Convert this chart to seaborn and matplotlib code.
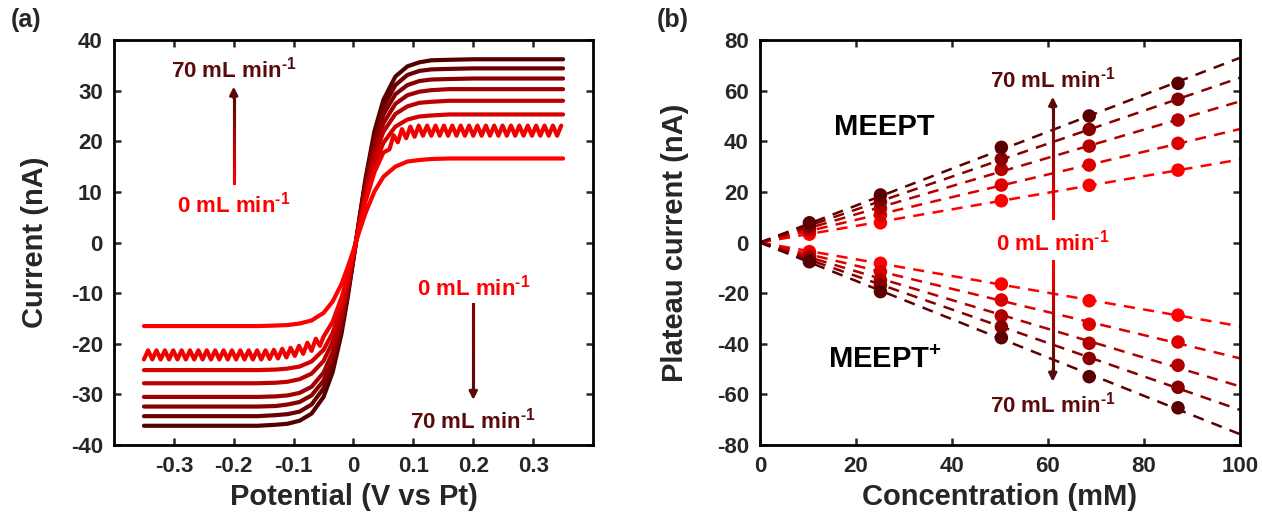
import numpy as np
import pandas as pd
import matplotlib
matplotlib.use('Agg')
import matplotlib.pyplot as plt
import seaborn as sns
from matplotlib.collections import LineCollection
from matplotlib.colors import to_rgb

# ---- panel (a): voltammograms, flow rate 0..70 mL/min
potential = [-0.35, -0.30, -0.25, -0.20, -0.16, -0.13, -0.11, -0.09, -0.07, -0.05, -0.035,
             -0.02, -0.01, 0.0, 0.01, 0.02, 0.035, 0.05, 0.07, 0.09, 0.11, 0.13, 0.16,
             0.20, 0.25, 0.30, 0.35]
current_0 = [-16.5, -16.5, -16.5, -16.5, -16.5, -16.4, -16.3, -16.0, -15.4, -13.9, -11.7,
             -8.2, -5.0, -1.5, 2.3, 5.8, 10.1, 13.0, 15.0, 16.0, 16.3, 16.5, 16.6,
             16.6, 16.6, 16.6, 16.6]
current_20 = [-25.2, -25.2, -25.2, -25.2, -25.2, -25.1, -24.9, -24.5, -23.5, -21.2, -17.9,
              -12.5, -7.7, -2.2, 3.5, 8.8, 15.4, 19.7, 22.9, 24.3, 24.9, 25.1, 25.3,
              25.3, 25.3, 25.3, 25.3]
current_30 = [-27.8, -27.8, -27.8, -27.8, -27.8, -27.7, -27.5, -27.0, -25.9, -23.4, -19.7,
              -13.8, -8.5, -2.4, 3.9, 9.8, 17.0, 21.9, 25.4, 26.9, 27.6, 27.8, 28.0,
              28.0, 28.0, 28.0, 28.0]
current_40 = [-30.5, -30.5, -30.5, -30.5, -30.5, -30.4, -30.2, -29.7, -28.5, -25.7, -21.7,
              -15.2, -9.5, -2.9, 4.0, 10.5, 18.4, 23.6, 27.4, 29.1, 29.8, 30.1, 30.3,
              30.3, 30.3, 30.3, 30.3]
current_50 = [-32.4, -32.4, -32.4, -32.4, -32.4, -32.3, -32.0, -31.5, -30.2, -27.3, -23.0,
              -16.1, -10.0, -2.9, 4.4, 11.3, 19.7, 25.3, 29.3, 31.1, 31.9, 32.2, 32.3,
              32.4, 32.4, 32.4, 32.4]
current_60 = [-34.3, -34.3, -34.3, -34.3, -34.3, -34.1, -33.9, -33.4, -32.0, -28.8, -24.3,
              -17.0, -10.5, -3.1, 4.7, 12.0, 20.9, 26.8, 31.1, 33.1, 33.9, 34.2, 34.3,
              34.4, 34.4, 34.4, 34.4]
current_70 = [-36.2, -36.2, -36.2, -36.2, -36.2, -36.0, -35.8, -35.2, -33.8, -30.5, -25.7,
              -18.0, -11.1, -3.3, 4.9, 12.6, 22.0, 28.2, 32.8, 34.8, 35.6, 36.0, 36.1,
              36.2, 36.2, 36.2, 36.2]

# 10 mL/min curve is the wavy one, read on its own grid
wavy_potential = [-0.350, -0.343, -0.336, -0.329, -0.322, -0.315, -0.308, -0.301, -0.294, -0.287,
                  -0.280, -0.273, -0.266, -0.259, -0.252, -0.245, -0.238, -0.231, -0.224, -0.217,
                  -0.210, -0.203, -0.196, -0.189, -0.182, -0.175, -0.168, -0.161, -0.154, -0.147,
                  -0.140, -0.133, -0.126, -0.119, -0.112, -0.105, -0.098, -0.091, -0.084, -0.077,
                  -0.070, -0.063, -0.056, -0.050, -0.035, -0.020, -0.010, 0.000, 0.010, 0.020,
                  0.035, 0.050, 0.060, 0.067, 0.074, 0.081, 0.088, 0.095, 0.102, 0.109,
                  0.116, 0.123, 0.130, 0.137, 0.144, 0.151, 0.158, 0.165, 0.172, 0.179,
                  0.186, 0.193, 0.200, 0.207, 0.214, 0.221, 0.228, 0.235, 0.242, 0.249,
                  0.256, 0.263, 0.270, 0.277, 0.284, 0.291, 0.298, 0.305, 0.312, 0.319,
                  0.326, 0.333, 0.340, 0.347]
wavy_current = [-23.1, -21.3, -23.1, -21.3, -23.1, -21.3, -23.1, -21.3, -23.1, -21.3,
                -23.1, -21.3, -23.1, -21.3, -23.1, -21.3, -23.1, -21.3, -23.1, -21.3,
                -23.1, -21.3, -23.1, -21.3, -23.1, -21.3, -23.1, -21.3, -23.1, -21.3,
                -23.0, -21.2, -22.9, -21.0, -22.7, -20.8, -22.4, -20.4, -22.0, -19.8,
                -21.4, -19.0, -20.4, -18.6, -15.7, -10.9, -6.7, -1.8, 3.3, 8.1,
                13.9, 17.8, 18.4, 21.2, 19.8, 22.4, 20.6, 22.9, 20.9, 23.1,
                21.1, 23.1, 21.1, 23.1, 21.1, 23.1, 21.1, 23.1, 21.1, 23.1,
                21.1, 23.1, 21.1, 23.1, 21.1, 23.1, 21.1, 23.1, 21.1, 23.1,
                21.1, 23.1, 21.1, 23.1, 21.1, 23.1, 21.1, 23.1, 21.1, 23.1,
                21.1, 23.1, 21.1, 23.1]

flow_a = ['0', '10', '20', '30', '40', '50', '60', '70']
colors_a = ['#FF0000', '#F00000', '#D40000', '#BA0000', '#A00000', '#860000', '#6C0000', '#520000']
x_ticks_a = [-0.3, -0.2, -0.1, 0, 0.1, 0.2, 0.3]
x_tick_labels_a = ['-0.3', '-0.2', '-0.1', '0', '0.1', '0.2', '0.3']

# ---- panel (b): plateau current vs concentration, flow 0, 10, 30, 50, 70 mL/min
conc = [10.3, 25.1, 50.3, 68.6, 87.1]
flow_b = ['0', '10', '30', '50', '70']
meept_0 = [3.3, 7.8, 16.5, 22.6, 28.6]
meept_10 = [4.4, 10.9, 22.7, 30.6, 39.2]
meept_30 = [5.3, 13.5, 28.9, 38.1, 48.4]
meept_50 = [6.5, 16.1, 33.0, 44.7, 56.6]
meept_70 = [7.8, 18.8, 37.6, 50.0, 62.9]
meeptp_0 = [-3.6, -8.2, -16.4, -23.0, -28.7]
meeptp_10 = [-4.5, -11.5, -22.7, -32.3, -39.3]
meeptp_30 = [-5.6, -14.8, -29.0, -39.8, -48.5]
meeptp_50 = [-6.6, -16.8, -33.3, -45.8, -57.2]
meeptp_70 = [-7.6, -19.4, -37.6, -53.0, -65.3]
colors_b = ['#FF0000', '#DC0000', '#B00000', '#860000', '#5A0000']

dark = '#5A0A0A'
red = '#FF0000'

sns.set_style('ticks')
plt.rcParams['font.family'] = ['Liberation Sans', 'DejaVu Sans']
plt.rcParams['font.weight'] = 'bold'
plt.rcParams['axes.labelweight'] = 'bold'
plt.rcParams['axes.unicode_minus'] = False
plt.rcParams['mathtext.fontset'] = 'custom'
plt.rcParams['mathtext.bf'] = 'Liberation Sans:bold'
plt.rcParams['mathtext.rm'] = 'Liberation Sans:bold'
plt.rcParams['mathtext.default'] = 'bf'
plt.rcParams['lines.scale_dashes'] = False

fig = plt.figure(figsize=(12.62, 5.2), dpi=100)
ax1 = fig.add_axes([0.0903, 0.1442, 0.3796, 0.7788])
ax2 = fig.add_axes([0.6022, 0.1442, 0.3803, 0.7788])

# long table for panel (a)
curves = {'0': current_0, '20': current_20, '30': current_30, '40': current_40,
          '50': current_50, '60': current_60, '70': current_70}
rows = []
for f in flow_a:
    if f == '10':
        for e, i in zip(wavy_potential, wavy_current):
            rows.append((f, e, i))
    else:
        for e, i in zip(potential, curves[f]):
            rows.append((f, e, i))
df_a = pd.DataFrame(rows, columns=['flow', 'E', 'I'])

sns.lineplot(data=df_a, x='E', y='I', hue='flow', hue_order=flow_a[::-1],
             palette=dict(zip(flow_a, colors_a)), estimator=None, sort=False,
             linewidth=3, legend=False, ax=ax1)

# panel (b) tables
ox = {'0': meept_0, '10': meept_10, '30': meept_30, '50': meept_50, '70': meept_70}
rd = {'0': meeptp_0, '10': meeptp_10, '30': meeptp_30, '50': meeptp_50, '70': meeptp_70}
pts = []
for f in flow_b:
    for c, v in zip(conc, ox[f]):
        pts.append((f, 'MEEPT', c, v))
    for c, v in zip(conc, rd[f]):
        pts.append((f, 'MEEPT+', c, v))
df_b = pd.DataFrame(pts, columns=['flow', 'species', 'conc', 'current'])

pal_b = dict(zip(flow_b, colors_b))
for f in flow_b:
    for sp in ['MEEPT', 'MEEPT+']:
        sub = df_b[(df_b.flow == f) & (df_b.species == sp)]
        # linear fit through the origin
        k = np.dot(sub.conc, sub.current) / np.dot(sub.conc, sub.conc)
        sns.lineplot(x=[0, 100], y=[0, 100 * k], color=pal_b[f], linewidth=1.8,
                     linestyle='--', ax=ax2, zorder=2)
        ax2.lines[-1].set_dashes((8, 6))
for f in flow_b:
    sub = df_b[df_b.flow == f]
    sns.scatterplot(data=sub, x='conc', y='current', color=pal_b[f], s=95,
                    edgecolor='none', ax=ax2, zorder=3, legend=False)


def style(ax):
    for sp in ax.spines.values():
        sp.set_linewidth(2)
        sp.set_color('black')
        sp.set_visible(True)
    ax.tick_params(direction='in', length=5, width=1.8, top=True, right=True,
                   labelsize=16, pad=8)
    for lab in ax.get_xticklabels() + ax.get_yticklabels():
        lab.set_fontweight('bold')


ax1.set_xlim(-0.4, 0.4)
ax1.set_ylim(-40, 40)
ax1.set_xticks(x_ticks_a)
ax1.set_xticklabels(x_tick_labels_a)
ax1.set_yticks(range(-40, 41, 10))
ax1.set_xlabel('Potential (V vs Pt)', fontsize=21, fontweight='bold', labelpad=4)
ax1.set_ylabel('Current (nA)', fontsize=21, fontweight='bold', labelpad=16)
style(ax1)

ax2.set_xlim(0, 100)
ax2.set_ylim(-80, 80)
ax2.set_xticks(range(0, 101, 20))
ax2.set_yticks(range(-80, 81, 20))
ax2.set_xlabel('Concentration (mM)', fontsize=21, fontweight='bold', labelpad=4)
ax2.set_ylabel('Plateau current (nA)', fontsize=21, fontweight='bold', labelpad=20)
style(ax2)


def grad_arrow(ax, x, y0, y1, c0, c1, head):
    sgn = 1 if y1 > y0 else -1
    ys = np.linspace(y0, y1 - sgn * head, 31)
    segs = [[(x, ys[i]), (x, ys[i + 1])] for i in range(30)]
    a, b = np.array(to_rgb(c0)), np.array(to_rgb(c1))
    cols = [a + (b - a) * t for t in np.linspace(0, 1, 30)]
    ax.add_collection(LineCollection(segs, colors=cols, linewidths=2.2,
                                     capstyle='projecting', zorder=4))
    ax.annotate('', xy=(x, y1), xytext=(x, y1 - sgn * head * 1.05),
                arrowprops=dict(arrowstyle='-|>', color=c1, lw=2, mutation_scale=12,
                                shrinkA=0, shrinkB=0), zorder=5)


lab = 'mL min$^{\u20101}$'
ax1.text(-0.2, 34.1, '70 ' + lab, color=dark, fontsize=16, ha='center', va='center')
ax1.text(-0.2, 7.6, '0 ' + lab, color=red, fontsize=16, ha='center', va='center')
grad_arrow(ax1, -0.2, 11.8, 30.8, red, dark, 2.2)
ax1.text(0.2, -8.9, '0 ' + lab, color=red, fontsize=16, ha='center', va='center')
ax1.text(0.2, -35.2, '70 ' + lab, color=dark, fontsize=16, ha='center', va='center')
grad_arrow(ax1, 0.2, -12.1, -31.1, '#8A0000', dark, 2.2)

ax2.text(61, 64.5, '70 ' + lab, color=dark, fontsize=16, ha='center', va='center')
ax2.text(61, 0, '0 ' + lab, color=red, fontsize=16, ha='center', va='center')
ax2.text(61, -64.2, '70 ' + lab, color=dark, fontsize=16, ha='center', va='center')
grad_arrow(ax2, 61, 9.5, 57.6, red, dark, 4.4)
grad_arrow(ax2, 61, -7.3, -55.0, red, dark, 4.4)
ax2.text(26, 45.7, 'MEEPT', color='black', fontsize=21, ha='center', va='center')
ax2.text(26, -46.4, 'MEEPT$^{+}$', color='black', fontsize=21, ha='center', va='center')

fig.text(0.021, 0.962, '(a)', fontsize=18, fontweight='bold', ha='center', va='center')
fig.text(0.533, 0.962, '(b)', fontsize=18, fontweight='bold', ha='center', va='center')

fig.savefig('out.png', dpi=100)
